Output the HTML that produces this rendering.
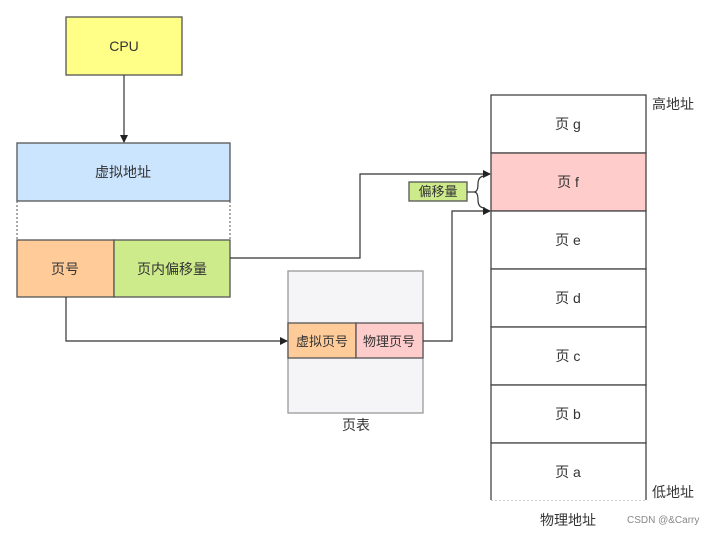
<!DOCTYPE html>
<html><head><meta charset="utf-8"><style>
body{margin:0;background:#fff;}
svg text{font-family:"Liberation Sans","Noto Sans CJK SC",sans-serif;}
</style></head><body>
<svg width="720" height="535" xmlns="http://www.w3.org/2000/svg">
<defs><marker id="a" markerWidth="8" markerHeight="8" refX="7" refY="4" orient="auto" markerUnits="userSpaceOnUse"><path d="M0,0 L8,4 L0,8 Z" fill="#222"/></marker></defs>
<g stroke="#555" stroke-width="1.3">
<rect x="66" y="17" width="116" height="58" fill="#ffff88"/>
<rect x="17" y="143" width="213" height="58" fill="#cce5ff"/>
<rect x="17" y="240" width="97" height="57" fill="#ffcc99"/>
<rect x="114" y="240" width="116" height="57" fill="#cdeb8b"/>
<rect x="288" y="271" width="135" height="142" fill="#f5f4f7" stroke="#999"/>
<rect x="288" y="323" width="68" height="35" fill="#ffcc99"/>
<rect x="356" y="323" width="67" height="35" fill="#ffcccc"/>
<rect x="409" y="182" width="58" height="19" fill="#cdeb8b"/>
</g>
<g stroke="#555" stroke-width="1" stroke-dasharray="2,2"><line x1="17" y1="201" x2="17" y2="240"/><line x1="230" y1="201" x2="230" y2="240"/><line x1="491" y1="500" x2="646" y2="500" stroke="#999"/></g>
<g fill="none" stroke="#333" stroke-width="1.2">
<line x1="124" y1="75" x2="124" y2="142" marker-end="url(#a)"/>
<polyline points="230,258 360,258 360,174 490,174" marker-end="url(#a)"/>
<polyline points="66,297 66,341 287,341" marker-end="url(#a)"/>
<polyline points="423,341 452,341 452,211 490,211" marker-end="url(#a)"/>
<line x1="467" y1="192" x2="474" y2="192"/>
<path d="M485,176 Q478,176 478,184 Q478,192 474,192 Q478,192 478,200 Q478,208 485,208"/>
</g>
<g stroke="#444" stroke-width="1.3">
<rect x="491" y="95" width="155" height="58" fill="#fff"/>
<rect x="491" y="153" width="155" height="58" fill="#ffcccc"/>
<rect x="491" y="211" width="155" height="58" fill="#fff"/>
<rect x="491" y="269" width="155" height="58" fill="#fff"/>
<rect x="491" y="327" width="155" height="58" fill="#fff"/>
<rect x="491" y="385" width="155" height="58" fill="#fff"/>
<path d="M491,500 L491,443 L646,443 L646,500" fill="#fff"/>
</g>
<g font-size="14" fill="#333" text-anchor="middle">
<text x="124" y="51">CPU</text>
<text x="123" y="177">虚拟地址</text>
<text x="65" y="274">页号</text>
<text x="172" y="274">页内偏移量</text>
<text x="322" y="346" font-size="13">虚拟页号</text>
<text x="389" y="346" font-size="13">物理页号</text>
<text x="438" y="196" font-size="13">偏移量</text>
<text x="356" y="430">页表</text>
<text x="568" y="129">页 g</text>
<text x="568" y="187">页 f</text>
<text x="568" y="245">页 e</text>
<text x="568" y="303">页 d</text>
<text x="568" y="361">页 c</text>
<text x="568" y="419">页 b</text>
<text x="568" y="477">页 a</text>
<text x="568" y="525">物理地址</text>
</g>
<g font-size="14" fill="#333"><text x="652" y="109">高地址</text><text x="652" y="497">低地址</text></g>
<text x="627" y="523" font-size="10" fill="#888">CSDN @&amp;Carry</text>
</svg>
</body></html>
